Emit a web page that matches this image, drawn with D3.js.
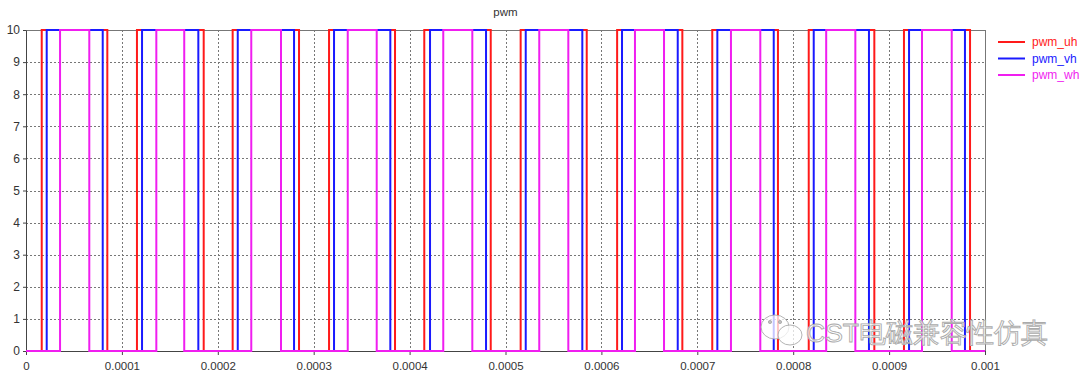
<!DOCTYPE html>
<html lang="en">
  <head>
    <meta charset="UTF-8" />
    <title>pwm</title>
    <script src="https://cdn.jsdelivr.net/npm/d3@7/dist/d3.min.js"></script>
    <style>
      body { margin: 0; background: #fff; }
      text { font-family: 'Liberation Sans', Arial, sans-serif; }
    </style>
  </head>
  <body>
    <div id="chart"></div>
    <script>
      // switching instants, seconds
      const series = ['pwm_uh', 'pwm_vh', 'pwm_wh']
      const colors = ['#ff1a1a', '#1a1aff', '#f01ef0']
      const uhRise = [16.4e-6, 115.7e-6, 215.5e-6, 316e-6, 415.3e-6, 515.8e-6, 616.4e-6, 715.6e-6, 816.2e-6, 915.5e-6]
      const uhFall = [84.8e-6, 185.3e-6, 284.7e-6, 384.8e-6, 484.6e-6, 584.7e-6, 684.4e-6, 784.1e-6, 884.6e-6, 984.4e-6]
      const vhRise = [21.6e-6, 121e-6, 220.8e-6, 321.2e-6, 421.3e-6, 521.1e-6, 621.5e-6, 720.9e-6, 821.4e-6, 920.8e-6]
      const vhFall = [80e-6, 179.7e-6, 279.5e-6, 379.9e-6, 479.7e-6, 580.1e-6, 679.6e-6, 779.7e-6, 879e-6, 979.1e-6]
      const whRise = [35.5e-6, 135.9e-6, 234.9e-6, 335.5e-6, 435.1e-6, 535.2e-6, 635e-6, 735.1e-6, 834.4e-6, 934.3e-6]
      const whFall = [66e-6, 165e-6, 265.9e-6, 365.7e-6, 465.4e-6, 565.5e-6, 665.3e-6, 765.7e-6, 864.8e-6, 965.3e-6]
      const high = 10
      const xTicks = [0, 0.0001, 0.0002, 0.0003, 0.0004, 0.0005, 0.0006, 0.0007, 0.0008, 0.0009, 0.001]
      const xTickLabels = ['0', '0.0001', '0.0002', '0.0003', '0.0004', '0.0005', '0.0006', '0.0007', '0.0008', '0.0009', '0.001']
      const yTicks = [0, 1, 2, 3, 4, 5, 6, 7, 8, 9, 10]

      const width = 1080, height = 378
      const m = { top: 30, right: 95, bottom: 27, left: 26 }

      const svg = d3.select('#chart').append('svg')
        .attr('width', width).attr('height', height)

      const x = d3.scaleLinear().domain([0, 0.001]).range([m.left, width - m.right])
      const y = d3.scaleLinear().domain([0, 10]).range([height - m.bottom, m.top])

      // grid
      const grid = svg.append('g')
        .attr('stroke', '#777').attr('stroke-dasharray', '2,2').attr('stroke-width', 1)
      grid.selectAll('.gx').data(xTicks.slice(1, -1)).join('line')
        .attr('x1', d => Math.round(x(d)) + 0.5).attr('x2', d => Math.round(x(d)) + 0.5)
        .attr('y1', y(10)).attr('y2', y(0))
      grid.selectAll('.gy').data(yTicks.slice(1, -1)).join('line')
        .attr('y1', d => Math.round(y(d)) + 0.5).attr('y2', d => Math.round(y(d)) + 0.5)
        .attr('x1', x(0)).attr('x2', x(0.001))

      // frame
      svg.append('rect')
        .attr('x', x(0) + 0.5).attr('y', y(10) + 0.5)
        .attr('width', x(0.001) - x(0)).attr('height', y(0) - y(10))
        .attr('fill', 'none').attr('stroke', '#777')

      const xAxis = d3.axisBottom(x).tickValues(xTicks)
        .tickFormat((d, i) => xTickLabels[i]).tickSize(4).tickSizeOuter(0)
      svg.append('g').attr('transform', `translate(0,${y(0)})`).call(xAxis)
        .call(g => g.select('.domain').attr('stroke', '#444'))
        .call(g => g.selectAll('.tick line').attr('stroke', '#444'))
        .call(g => g.selectAll('text').attr('fill', '#333').attr('font-size', 11.5)
          .attr('font-family', "'Liberation Sans', Arial, sans-serif").attr('dy', '1.05em'))

      const yAxis = d3.axisLeft(y).tickValues(yTicks).tickSize(3).tickSizeOuter(0)
      svg.append('g').attr('transform', `translate(${x(0)},0)`).call(yAxis)
        .call(g => g.select('.domain').attr('stroke', '#444'))
        .call(g => g.selectAll('.tick line').attr('stroke', '#444'))
        .call(g => g.selectAll('text').attr('fill', '#333').attr('font-size', 12)
          .attr('font-family', "'Liberation Sans', Arial, sans-serif").attr('x', -6))

      // step traces
      const edges = [[uhRise, uhFall], [vhRise, vhFall], [whRise, whFall]]
      const line = d3.line().x(d => x(d[0])).y(d => y(d[1]))
      edges.forEach(([rise, fall], k) => {
        const pts = [[0, 0]]
        rise.forEach((r, i) => {
          pts.push([r, 0], [r, high], [fall[i], high], [fall[i], 0])
        })
        pts.push([0.001, 0])
        svg.append('path').datum(pts)
          .attr('d', line).attr('fill', 'none')
          .attr('stroke', colors[k]).attr('stroke-width', 2)
      })

      // title
      svg.append('text').attr('x', (x(0) + x(0.001)) / 2).attr('y', 16)
        .attr('text-anchor', 'middle').attr('font-size', 11.5).attr('fill', '#333').text('pwm')

      // legend
      const lg = svg.append('g').attr('transform', `translate(998,42)`)
      series.forEach((s, i) => {
        const row = lg.append('g').attr('transform', `translate(0,${i * 16.5})`)
        row.append('line').attr('x1', 0).attr('x2', 27).attr('stroke', colors[i]).attr('stroke-width', 2)
        row.append('text').attr('x', 34).attr('dy', '0.35em').attr('font-size', 12)
          .attr('fill', colors[i]).text(s)
      })

      // watermark
      const wm = svg.append('g').attr('fill', '#fff').attr('fill-opacity', 0.75)
        .attr('stroke', '#aaa').attr('stroke-width', 0.9)
      wm.append('ellipse').attr('cx', 775).attr('cy', 327).attr('rx', 14).attr('ry', 12)
      wm.append('ellipse').attr('cx', 790).attr('cy', 335).attr('rx', 12).attr('ry', 10)
      wm.append('circle').attr('cx', 770).attr('cy', 322).attr('r', 1.6).attr('fill', '#aaa')
      wm.append('circle').attr('cx', 780).attr('cy', 322).attr('r', 1.6).attr('fill', '#aaa')
      wm.append('text').attr('x', 806).attr('y', 342)
        .attr('font-family', "'Noto Sans CJK SC', sans-serif").attr('font-size', 26.5)
        .attr('font-weight', 300).text('CST电磁兼容性仿真')
    </script>
  </body>
</html>
